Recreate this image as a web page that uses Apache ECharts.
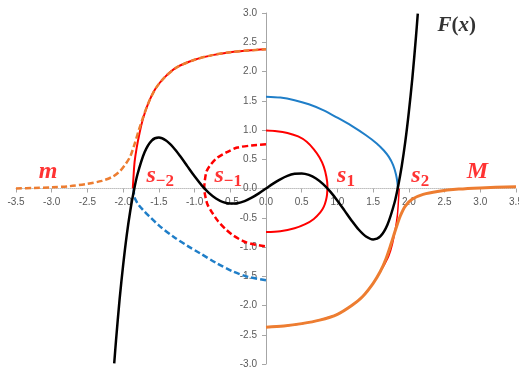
<!DOCTYPE html>
<html>
<head>
<meta charset="utf-8">
<script src="https://cdn.jsdelivr.net/npm/echarts@6/dist/echarts.min.js"></script>
<style>
html,body{margin:0;padding:0;background:#fff;}
#chart{width:519px;height:369px;}
</style>
</head>
<body>
<div id="chart"></div>
<script>
//data, [x, y]
var curveF=[[-2.125,-2.99],[-2.1,-2.6],[-2.05,-1.9],[-2.0,-1.31],[-1.95,-0.8],[-1.9,-0.38],[-1.85,-0.04],[-1.8,0.24],[-1.7,0.62],[-1.6,0.82],[-1.5,0.87],[-1.4,0.82],[-1.3,0.705],[-1.2,0.55],[-1.1,0.378],[-1.0,0.208],[-0.9,0.054],[-0.8,-0.074],[-0.7,-0.17],[-0.6,-0.232],[-0.5,-0.258],[-0.4,-0.251],[-0.3,-0.216],[-0.2,-0.157],[-0.1,-0.083],[0,0],
    [0.1,0.083],[0.2,0.157],[0.3,0.216],[0.4,0.251],[0.5,0.258],[0.6,0.232],[0.7,0.17],[0.8,0.074],[0.9,-0.054],[1.0,-0.208],[1.1,-0.378],[1.2,-0.55],[1.3,-0.705],[1.4,-0.82],[1.5,-0.87],[1.6,-0.82],[1.7,-0.62],[1.8,-0.24],[1.85,0.04],[1.9,0.38],[1.95,0.8],[2.0,1.31],[2.05,1.9],[2.1,2.6],[2.125,2.99]];
var loopRight=[[0,0.99],[0.15,0.98],[0.3,0.95],[0.45,0.89],[0.57,0.8],[0.67,0.67],[0.75,0.53],[0.81,0.37],[0.845,0.2],[0.86,0.05],[0.855,-0.1],[0.84,-0.2],[0.81,-0.31],[0.76,-0.41],[0.67,-0.52],[0.55,-0.61],[0.4,-0.68],[0.2,-0.73],[0,-0.745]];
var loopLeft=[[0,0.755],[-0.2,0.735],[-0.4,0.7],[-0.55,0.62],[-0.69,0.52],[-0.78,0.4],[-0.83,0.3],[-0.855,0.15],[-0.865,0],[-0.855,-0.1],[-0.82,-0.27],[-0.76,-0.4],[-0.67,-0.56],[-0.56,-0.7],[-0.45,-0.81],[-0.3,-0.91],[-0.15,-0.96],[0,-0.99]];
var blueRight=[[0,1.57],[0.2,1.555],[0.4,1.51],[0.6,1.44],[0.8,1.34],[1.0,1.21],[1.2,1.07],[1.4,0.91],[1.55,0.77],[1.65,0.65],[1.72,0.54],[1.78,0.4],[1.82,0.24],[1.84,0.1],[1.845,0]];
var blueLeft=[[-1.85,0],[-1.85,-0.1],[-1.8,-0.25],[-1.72,-0.37],[-1.63,-0.48],[-1.5,-0.63],[-1.3,-0.82],[-1.1,-0.98],[-0.92,-1.11],[-0.7,-1.27],[-0.46,-1.42],[-0.25,-1.51],[0,-1.57]];
var orangeLeft=[[-3.5,0],[-3.25,0.01],[-3.0,0.02],[-2.75,0.04],[-2.5,0.08],[-2.3,0.13],[-2.15,0.2],[-2.05,0.29],[-1.97,0.41],[-1.9,0.55],[-1.84,0.76],[-1.78,1.0],[-1.72,1.22],[-1.65,1.45],[-1.55,1.7],[-1.42,1.9],[-1.25,2.07],[-1.0,2.2],[-0.75,2.28],[-0.5,2.33],[-0.25,2.36],[0,2.38]];
var redLeft=[[-1.865,0],[-1.855,0.2],[-1.84,0.45],[-1.81,0.7],[-1.77,0.95],[-1.72,1.2],[-1.65,1.45],[-1.55,1.7],[-1.42,1.9],[-1.25,2.07],[-1.0,2.2],[-0.75,2.28],[-0.5,2.33],[-0.25,2.36],[0,2.38]];
var orangeRight=[[0,-2.37],[0.25,-2.35],[0.5,-2.31],[0.75,-2.25],[1.0,-2.15],[1.2,-2.0],[1.35,-1.85],[1.5,-1.62],[1.6,-1.42],[1.68,-1.2],[1.75,-0.95],[1.82,-0.68],[1.88,-0.47],[1.95,-0.3],[2.05,-0.18],[2.2,-0.1],[2.4,-0.05],[2.7,-0.01],[3.0,0.01],[3.5,0.03]];
var redRight=[[1.865,0],[1.855,-0.2],[1.84,-0.45],[1.81,-0.7],[1.77,-0.95],[1.72,-1.15],[1.65,-1.32],[1.6,-1.42],[1.5,-1.62],[1.35,-1.85],[1.2,-2.0],[1.0,-2.15],[0.75,-2.25],[0.5,-2.31],[0.25,-2.35],[0,-2.37]];
//text labels: x, y, rich text
var labelPoints=[
    [-3.05,0.28,"{it|m}"],
    [-1.48,0.22,"{it|s}{sub|−2}"],
    [-0.53,0.22,"{it|s}{sub|−1}"],
    [1.12,0.22,"{it|s}{sub|1}"],
    [2.16,0.22,"{it|s}{sub|2}"],
    [2.96,0.28,"{it|M}"],
    [2.67,2.79,"{fi|F}{fp|(}{fi|x}{fp|)}"]
];

var RED="#FF0000",ORANGE="#ED7D31",BLUE="#1F7EC8";
var serif="'Liberation Serif','DejaVu Serif',serif";
//grid box, axes are shifted onto the zero lines
var G={left:16,right:3,top:13,bottom:5,w:500,h:351};

function line(data,color,width,dashed){
    return {
        type:"line",data:data,showSymbol:false,symbol:"none",smooth:0.3,
        lineStyle:{color:color,width:width,type:dashed?[6,3]:"solid",cap:"butt"},
        animation:false,silent:true
    };
}

var chart=echarts.init(document.getElementById("chart"),null,{renderer:"canvas"});
var option={
    backgroundColor:"#fff",
    animation:false,
    grid:{left:G.left,right:G.right,top:G.top,bottom:G.bottom,containLabel:false,outerBoundsMode:"none"},
    xAxis:{
        type:"value",min:-3.5,max:3.5,interval:0.5,position:"bottom",offset:-G.h/2,
        axisLine:{onZero:false,lineStyle:{color:"#BFBFBF",width:1,type:"dotted"}},
        axisTick:{show:true,length:4,lineStyle:{color:"#A6A6A6"}},
        axisLabel:{color:"#595959",fontSize:10,fontFamily:"'Liberation Sans',Arial",margin:9,
            formatter:function(v){return v.toFixed(1);}},
        splitLine:{show:false}
    },
    yAxis:{
        type:"value",min:-3,max:3,interval:0.5,position:"left",offset:-G.w/2,
        axisLine:{onZero:false,lineStyle:{color:"#A6A6A6",width:1}},
        axisTick:{show:true,length:4,lineStyle:{color:"#A6A6A6"}},
        axisLabel:{color:"#595959",fontSize:10,fontFamily:"'Liberation Sans',Arial",margin:9,
            formatter:function(v){return v.toFixed(1);}},
        splitLine:{show:false}
    },
    series:[
        line(redLeft,RED,2,false),
        line(orangeLeft,ORANGE,2.5,true),
        line(redRight,RED,1.5,false),
        line(orangeRight,ORANGE,3,false),
        line(blueRight,BLUE,2,false),
        line(blueLeft,BLUE,2.5,true),
        line(loopRight,RED,2,false),
        line(loopLeft,RED,2.5,true),
        line(curveF,"#000",2.5,false),
        {
            type:"scatter",symbolSize:0,silent:true,animation:false,
            data:labelPoints.map(function(p){
                return {value:[p[0],p[1]],label:{formatter:p[2]}};
            }),
            label:{
                show:true,position:"inside",
                rich:{
                    it:{fontFamily:serif,fontStyle:"italic",fontWeight:"bold",fontSize:24,color:RED},
                    sub:{fontFamily:serif,fontWeight:"bold",fontSize:17,color:RED,padding:[11,0,0,0]},
                    fi:{fontFamily:serif,fontStyle:"italic",fontWeight:"bold",fontSize:21,color:"#000"},
                    fp:{fontFamily:serif,fontWeight:"bold",fontSize:21,color:"#000"}
                }
            }
        }
    ]
};
chart.setOption(option);
</script>
</body>
</html>
